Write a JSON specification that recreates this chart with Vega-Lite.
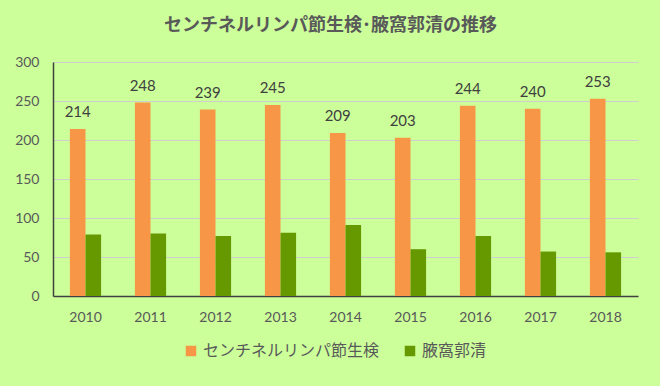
{
  "$schema": "https://vega.github.io/schema/vega-lite/v6.json",
  "autosize": "none",
  "width": 585,
  "height": 234,
  "padding": {"left": 53, "top": 62, "right": 22, "bottom": 90},
  "background": "#ccff99",
  "config": {
    "view": {"stroke": null},
    "font": "Lato"
  },
  "title": {
    "text": "センチネルリンパ節生検･腋窩郭清の推移",
    "font": "Noto Sans CJK JP",
    "fontSize": 18,
    "fontWeight": "bold",
    "color": "#595959",
    "anchor": "middle",
    "dx": -15,
    "offset": 20
  },
  "data": {
    "values": [
      {"year": "2010", "series": "センチネルリンパ節生検", "value": 214},
      {"year": "2011", "series": "センチネルリンパ節生検", "value": 248},
      {"year": "2012", "series": "センチネルリンパ節生検", "value": 239},
      {"year": "2013", "series": "センチネルリンパ節生検", "value": 245},
      {"year": "2014", "series": "センチネルリンパ節生検", "value": 209},
      {"year": "2015", "series": "センチネルリンパ節生検", "value": 203},
      {"year": "2016", "series": "センチネルリンパ節生検", "value": 244},
      {"year": "2017", "series": "センチネルリンパ節生検", "value": 240},
      {"year": "2018", "series": "センチネルリンパ節生検", "value": 253},
      {"year": "2010", "series": "腋窩郭清", "value": 79},
      {"year": "2011", "series": "腋窩郭清", "value": 80},
      {"year": "2012", "series": "腋窩郭清", "value": 77},
      {"year": "2013", "series": "腋窩郭清", "value": 81},
      {"year": "2014", "series": "腋窩郭清", "value": 91},
      {"year": "2015", "series": "腋窩郭清", "value": 60},
      {"year": "2016", "series": "腋窩郭清", "value": 77},
      {"year": "2017", "series": "腋窩郭清", "value": 57},
      {"year": "2018", "series": "腋窩郭清", "value": 56}
    ]
  },
  "encoding": {
    "x": {
      "field": "year",
      "type": "nominal",
      "scale": {"paddingInner": 0.52, "paddingOuter": 0.26},
      "axis": {
        "title": null,
        "labelAngle": 0,
        "labelFont": "Lato",
        "labelFontSize": 14,
        "labelColor": "#595959",
        "labelPadding": 14,
        "ticks": false,
        "domainColor": "#404040",
        "domainWidth": 1.5
      }
    },
    "y": {
      "field": "value",
      "type": "quantitative",
      "scale": {"domain": [0, 300]},
      "axis": {
        "title": null,
        "values": [0, 50, 100, 150, 200, 250, 300],
        "labelFont": "Lato",
        "labelFontSize": 14,
        "labelColor": "#595959",
        "labelPadding": 14,
        "ticks": false,
        "domain": true,
        "domainColor": "#404040",
        "domainWidth": 1.5,
        "gridColor": "#cfcfcf",
        "gridWidth": 1
      }
    },
    "xOffset": {
      "field": "series",
      "type": "nominal",
      "sort": ["センチネルリンパ節生検", "腋窩郭清"]
    }
  },
  "layer": [
    {
      "mark": {"type": "bar"},
      "encoding": {
        "color": {
          "field": "series",
          "type": "nominal",
          "scale": {
            "domain": ["センチネルリンパ節生検", "腋窩郭清"],
            "range": ["#f79646", "#669900"]
          },
          "legend": {
            "title": null,
            "orient": "none",
            "legendX": 130,
            "legendY": 281,
            "direction": "horizontal",
            "symbolType": "square",
            "symbolSize": 110,
            "symbolStrokeWidth": 0,
            "labelFont": "Noto Sans CJK JP",
            "labelFontSize": 16,
            "labelColor": "#595959",
            "columnPadding": 22,
            "labelLimit": 300
          }
        }
      }
    },
    {
      "transform": [{"filter": "datum.series === 'センチネルリンパ節生検'"}],
      "mark": {
        "type": "text",
        "baseline": "bottom",
        "dy": -9,
        "font": "Lato",
        "fontSize": 15,
        "color": "#404040"
      },
      "encoding": {
        "text": {"field": "value", "type": "quantitative"}
      }
    }
  ]
}
